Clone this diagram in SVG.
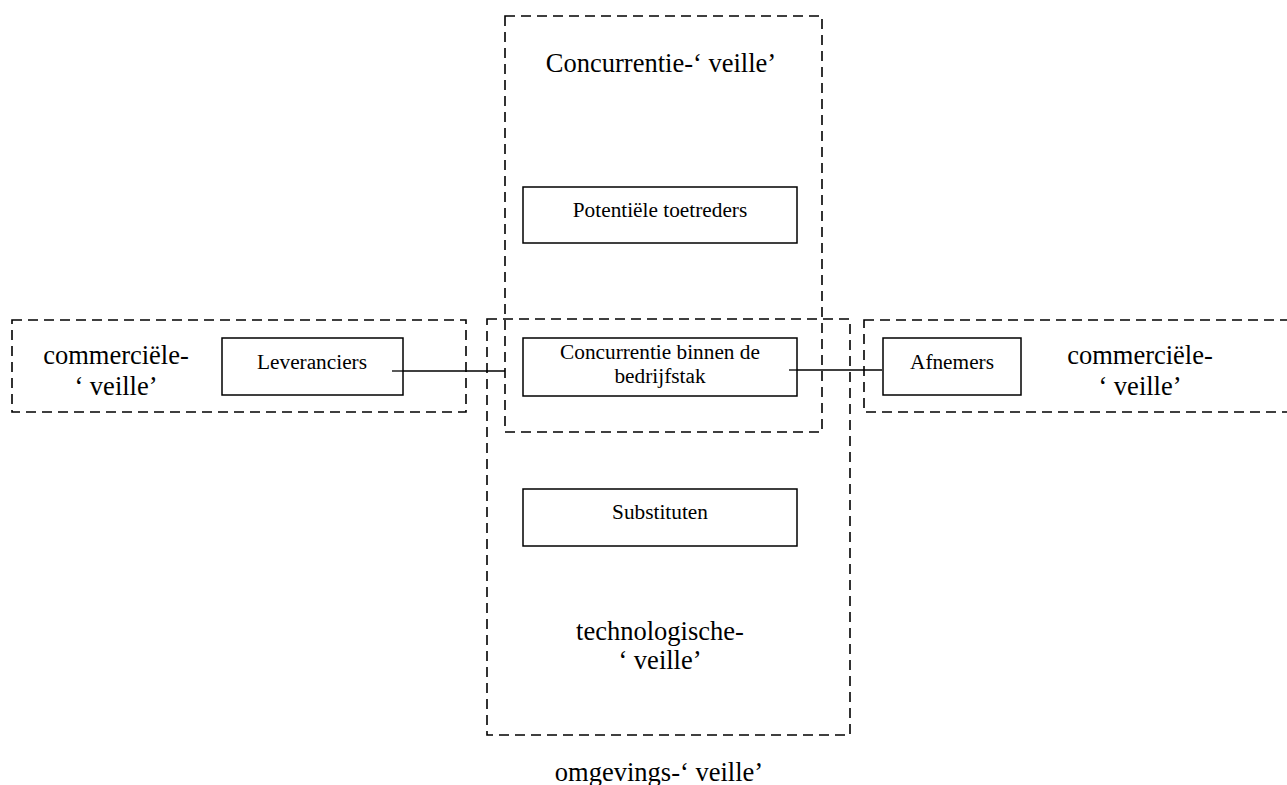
<svg xmlns="http://www.w3.org/2000/svg" width="1287" height="785" viewBox="0 0 1287 785">
  <style>
    .zone { fill: none; stroke: #000; stroke-width: 1.6; stroke-dasharray: 10 6; }
    .box { fill: #fff; stroke: #000; stroke-width: 1.5; }
    .link { stroke: #000; stroke-width: 1.3; fill: none; }
    .big { font-family: "Liberation Serif", "Times New Roman", serif; font-size: 26.5px; fill: #000; text-anchor: middle; }
    .small { font-family: "Liberation Serif", "Times New Roman", serif; font-size: 21.3px; fill: #000; text-anchor: middle; }
  </style>
  <rect width="1287" height="785" fill="#fff"/>

  <!-- dashed monitoring zones -->
  <g id="zone-concurrentie">
    <rect class="zone" x="505" y="16" width="317" height="416"/>
    <text class="big" x="661" y="72">Concurrentie-‘ veille’</text>
  </g>
  <g id="zone-omgeving">
    <rect class="zone" x="487" y="319" width="363" height="416"/>
    <text class="big" x="660" y="640">technologische-</text>
    <text class="big" x="660" y="669">‘ veille’</text>
    <text class="big" x="659" y="781">omgevings-‘ veille’</text>
  </g>
  <g id="zone-commercieel-links">
    <rect class="zone" x="12" y="320" width="454" height="92"/>
    <text class="big" x="116" y="364">commerciële-</text>
    <text class="big" x="116" y="395">‘ veille’</text>
  </g>
  <g id="zone-commercieel-rechts">
    <rect class="zone" x="864" y="320" width="440" height="92"/>
    <text class="big" x="1140" y="364">commerciële-</text>
    <text class="big" x="1140" y="395">‘ veille’</text>
  </g>

  <!-- connectors -->
  <g id="connectors">
    <line class="link" x1="392" y1="371" x2="505" y2="371"/>
    <line class="link" x1="789" y1="370" x2="882" y2="370"/>
  </g>

  <!-- forces -->
  <g id="node-potentiele">
    <rect class="box" x="523" y="187" width="274" height="56"/>
    <text class="small" x="660" y="217">Potentiële toetreders</text>
  </g>
  <g id="node-leveranciers">
    <rect class="box" x="222" y="338" width="181" height="57"/>
    <line class="link" x1="392" y1="371" x2="403" y2="371"/>
    <text class="small" x="312" y="369">Leveranciers</text>
  </g>
  <g id="node-concurrentie">
    <rect class="box" x="523" y="338" width="274" height="58"/>
    <line class="link" x1="789" y1="370" x2="797" y2="370"/>
    <text class="small" x="660" y="359">Concurrentie binnen de</text>
    <text class="small" x="660" y="383">bedrijfstak</text>
  </g>
  <g id="node-afnemers">
    <rect class="box" x="883" y="338" width="138" height="57"/>
    <text class="small" x="952" y="369">Afnemers</text>
  </g>
  <g id="node-substituten">
    <rect class="box" x="523" y="489" width="274" height="57"/>
    <text class="small" x="660" y="519">Substituten</text>
  </g>
</svg>
